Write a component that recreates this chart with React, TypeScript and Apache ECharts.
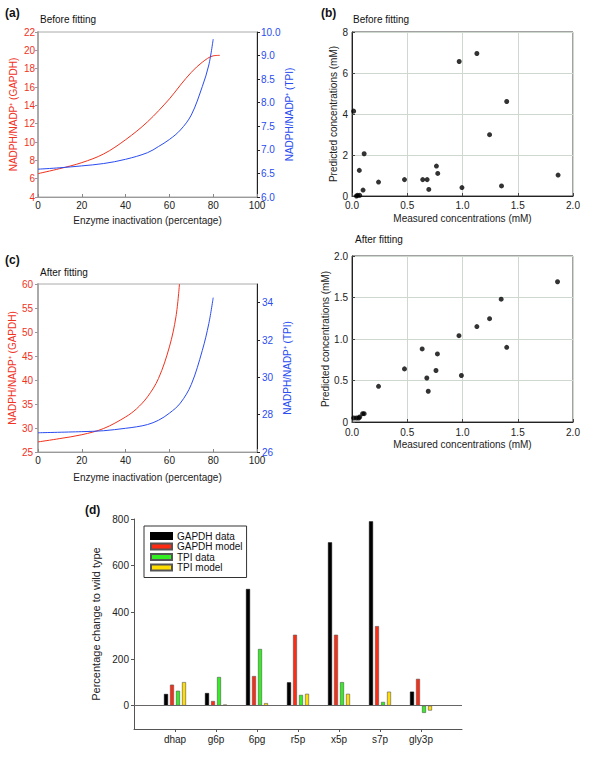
import React, { useEffect, useRef } from "react";
import * as echarts from "echarts";

// ---------- Data ----------
// Panel (a) Before fitting
const aGapdhX = [0, 10, 20, 30, 40, 50, 60, 65, 70, 75, 80, 83];
const aGapdhY = [6.55, 7.1, 7.75, 8.7, 10.25, 12.2, 14.7, 16.2, 17.6, 18.7, 19.4, 19.45];
const aTpiX = [0, 10, 20, 30, 40, 50, 55, 60, 65, 70, 75, 78, 80];
const aTpiY = [6.59, 6.62, 6.66, 6.71, 6.8, 6.94, 7.07, 7.22, 7.42, 7.74, 8.34, 8.8, 9.35];

// Panel (c) After fitting
const cGapdhX = [0, 10, 20, 30, 40, 45, 50, 55, 60, 63, 64.6];
const cGapdhY = [27.1, 27.8, 28.6, 29.9, 32.3, 34.0, 36.5, 40.3, 46.9, 53.2, 60];
const cTpiX = [0, 20, 30, 40, 45, 50, 55, 60, 65, 70, 75, 78, 80];
const cTpiY = [27.03, 27.09, 27.14, 27.27, 27.35, 27.47, 27.7, 28.08, 28.62, 29.62, 31.43, 32.88, 34.27];

// Panel (b) scatter
const measuredBefore = [0.015, 0.04, 0.05, 0.07, 0.066, 0.1, 0.11, 0.24, 0.475, 0.64, 0.68, 0.695, 0.764, 0.776, 0.97, 0.995, 1.13, 1.245, 1.353, 1.4, 1.865];
const predictedBefore = [4.14, 0, 0.03, 0.03, 1.25, 0.29, 2.06, 0.68, 0.8, 0.8, 0.8, 0.32, 1.46, 1.1, 6.56, 0.41, 6.95, 2.99, 0.49, 4.61, 1.02];
const measuredAfter = [0.015, 0.04, 0.06, 0.07, 0.096, 0.11, 0.24, 0.475, 0.635, 0.677, 0.69, 0.76, 0.773, 0.968, 0.99, 1.13, 1.245, 1.35, 1.4, 1.86];
const predictedAfter = [0.048, 0.048, 0.048, 0.06, 0.1, 0.1, 0.43, 0.64, 0.88, 0.53, 0.37, 0.62, 0.82, 1.04, 0.56, 1.15, 1.245, 1.48, 0.9, 1.69];

// Panel (d) bars
const metabolites = ["dhap", "g6p", "6pg", "r5p", "x5p", "s7p", "gly3p"];
const gapdhData = [50, 54, 500, 100, 700, 790, 60];
const gapdhModel = [90, 20, 127, 304, 304, 341, 115];
const tpiData = [64, 123, 243, 46, 101, 16, -31];
const tpiModel = [101, 5, 11, 51, 51, 60, -21];

// Tick labels
const tpiBeforeLabels: Record<string, string> = { "6": "6.0", "6.5": "6.5", "7": "7.0", "7.5": "7.5", "8": "8.0", "8.5": "8.5", "9": "9.0", "9.5": "10.0" };
const dTicks = [0, 200, 400, 600, 800];
const cTpiTicks = [26, 28, 30, 32, 34];

const RED = "#f0321e";
const BLUE = "#2a4cf0";
const FONT = "Liberation Sans, Arial, Helvetica, sans-serif";

const zip = (xs: number[], ys: number[]) => xs.map((x, i) => [x, ys[i]]);

export default function App() {
  const ref = useRef<HTMLDivElement>(null);

  useEffect(() => {
    if (!ref.current) return;
    const chart = echarts.init(ref.current, undefined, { renderer: "svg" });

    const txt = { color: "#222", fontSize: 10, fontFamily: FONT };
    const grayLine = { show: true, onZero: false, lineStyle: { color: "#9a9a9a", width: 1 } };
    const blackLine = { show: true, onZero: false, lineStyle: { color: "#222", width: 1 } };
    const gridLine = { show: true, lineStyle: { color: "#cfd8cf", width: 1 } };

    const padCats = ["", ...metabolites, ""];
    const pad = (arr: number[]) => [null, ...arr, null];

    const lineSeries = (name: string, xi: number, yi: number, xs: number[], ys: number[], color: string) => ({
      name, type: "line", xAxisIndex: xi, yAxisIndex: yi, data: zip(xs, ys),
      smooth: 0.35, showSymbol: false, lineStyle: { color, width: 1 }, itemStyle: { color },
    });

    const option: any = {
      animation: false,
      backgroundColor: "#fff",
      textStyle: { fontFamily: FONT },
      grid: [
        { left: 38, top: 32, width: 219, height: 165, show: true, borderColor: "#aaa", borderWidth: 1 },
        { left: 352, top: 32, width: 221, height: 164, show: true, borderColor: "#444", borderWidth: 1 },
        { left: 38, top: 284, width: 219, height: 168, show: true, borderColor: "#aaa", borderWidth: 1 },
        { left: 352, top: 256, width: 221, height: 166, show: true, borderColor: "#444", borderWidth: 1 },
        { left: 134, top: 519, width: 328, height: 210 },
      ],
      xAxis: [
        {
          gridIndex: 0, type: "value", min: 0, max: 100, interval: 20,
          axisLine: grayLine, axisTick: { inside: true, length: 3, lineStyle: { color: "#888" } },
          axisLabel: { ...txt, margin: 3 }, splitLine: { show: false },
          name: "Enzyme inactivation (percentage)", nameLocation: "middle", nameGap: 18, nameTextStyle: txt,
        },
        {
          gridIndex: 1, type: "value", min: 0, max: 2, interval: 0.5,
          axisLine: blackLine, axisTick: { inside: true, length: 3, lineStyle: { color: "#444" } },
          axisLabel: { ...txt, margin: 4, formatter: (v: number) => v.toFixed(1) }, splitLine: gridLine,
          name: "Measured concentrations (mM)", nameLocation: "middle", nameGap: 17, nameTextStyle: txt,
        },
        {
          gridIndex: 2, type: "value", min: 0, max: 100, interval: 20,
          axisLine: grayLine, axisTick: { inside: true, length: 3, lineStyle: { color: "#888" } },
          axisLabel: { ...txt, margin: 3 }, splitLine: { show: false },
          name: "Enzyme inactivation (percentage)", nameLocation: "middle", nameGap: 20, nameTextStyle: txt,
        },
        {
          gridIndex: 3, type: "value", min: 0, max: 2, interval: 0.5,
          axisLine: blackLine, axisTick: { inside: true, length: 3, lineStyle: { color: "#444" } },
          axisLabel: { ...txt, margin: 5, formatter: (v: number) => v.toFixed(1) }, splitLine: gridLine,
          name: "Measured concentrations (mM)", nameLocation: "middle", nameGap: 17, nameTextStyle: txt,
        },
        {
          gridIndex: 4, type: "category", data: padCats, boundaryGap: false,
          axisLine: { show: true, onZero: false, lineStyle: { color: "#555", width: 1 } },
          axisTick: { show: true, length: 3, interval: (i: number) => i > 0 && i < padCats.length - 1, lineStyle: { color: "#555" } },
          axisLabel: { ...txt, margin: 5, interval: 0 }, splitLine: { show: false },
        },
      ],
      yAxis: [
        {
          gridIndex: 0, type: "value", position: "left", min: 4, max: 22, interval: 2,
          axisLine: { show: true, onZero: false, lineStyle: { color: "#aaa", width: 2 } },
          axisTick: { show: true, length: 3, lineStyle: { color: "#999" } },
          axisLabel: { ...txt, color: RED, margin: 3 }, splitLine: { show: false },
          name: "NADPH/NADP⁺ (GAPDH)", nameLocation: "middle", nameGap: 20, nameTextStyle: { ...txt, color: RED },
        },
        {
          gridIndex: 0, type: "value", position: "right", min: 6, max: 9.5, interval: 0.5,
          axisLine: blackLine, axisTick: { show: true, length: 3, lineStyle: { color: "#222" } },
          axisLabel: { ...txt, color: BLUE, margin: 4, formatter: (v: number) => tpiBeforeLabels[String(v)] ?? v.toFixed(1) },
          splitLine: { show: false },
          name: "NADPH/NADP⁺ (TPI)", nameLocation: "middle", nameGap: 24, nameTextStyle: { ...txt, color: BLUE },
        },
        {
          gridIndex: 1, type: "value", min: 0, max: 8, interval: 2,
          axisLine: blackLine, axisTick: { inside: true, length: 3, lineStyle: { color: "#444" } },
          axisLabel: { ...txt, margin: 4 }, splitLine: gridLine,
          name: "Predicted concentrations (mM)", nameLocation: "middle", nameGap: 13, nameTextStyle: txt,
        },
        {
          gridIndex: 2, type: "value", position: "left", min: 25, max: 60, interval: 5,
          axisLine: { show: true, onZero: false, lineStyle: { color: "#aaa", width: 2 } },
          axisTick: { show: true, length: 3, lineStyle: { color: "#999" } },
          axisLabel: { ...txt, color: RED, margin: 5 }, splitLine: { show: false },
          name: "NADPH/NADP⁺ (GAPDH)", nameLocation: "middle", nameGap: 21, nameTextStyle: { ...txt, color: RED },
        },
        {
          gridIndex: 2, type: "value", position: "right", min: 26, max: 35,
          axisLine: blackLine,
          axisTick: { show: true, length: 3, customValues: cTpiTicks, lineStyle: { color: "#222" } },
          axisLabel: { ...txt, color: BLUE, margin: 5, customValues: cTpiTicks },
          splitLine: { show: false },
          name: "NADPH/NADP⁺ (TPI)", nameLocation: "middle", nameGap: 25, nameTextStyle: { ...txt, color: BLUE },
        },
        {
          gridIndex: 3, type: "value", min: 0, max: 2, interval: 0.5,
          axisLine: blackLine, axisTick: { inside: true, length: 3, lineStyle: { color: "#444" } },
          axisLabel: { ...txt, margin: 4, formatter: (v: number) => (v === 0 ? "0" : v.toFixed(1)) }, splitLine: gridLine,
          name: "Predicted concentrations (mM)", nameLocation: "middle", nameGap: 18, nameTextStyle: txt,
        },
        {
          gridIndex: 4, type: "value", min: -100, max: 800,
          axisLine: { show: true, onZero: false, lineStyle: { color: "#555", width: 1 } },
          axisTick: { show: true, length: 3, customValues: dTicks, lineStyle: { color: "#555" } },
          axisLabel: { ...txt, margin: 5, customValues: dTicks }, splitLine: { show: false },
          name: "Percentage change to wild type", nameLocation: "middle", nameGap: 28, nameTextStyle: { ...txt, fontSize: 11 },
        },
      ],
      legend: {
        orient: "vertical", left: 144, top: 526,
        itemWidth: 21, itemHeight: 6, itemGap: 0.5,
        padding: [5, 4, 5, 6],
        borderColor: "#333", borderWidth: 1, backgroundColor: "#fff",
        icon: "rect",
        textStyle: { color: "#111", fontSize: 10, lineHeight: 10, fontFamily: FONT },
        data: ["GAPDH data", "GAPDH model", "TPI data", "TPI model"],
      },
      graphic: [
        { type: "text", left: 5, top: 7, style: { text: "(a)", font: `bold 12px ${FONT}`, fill: "#111" } },
        { type: "text", left: 321, top: 7, style: { text: "(b)", font: `bold 12px ${FONT}`, fill: "#111" } },
        { type: "text", left: 5, top: 254, style: { text: "(c)", font: `bold 12px ${FONT}`, fill: "#111" } },
        { type: "text", left: 85, top: 504, style: { text: "(d)", font: `bold 12px ${FONT}`, fill: "#111" } },
        { type: "text", left: 40, top: 14, style: { text: "Before fitting", font: `10px ${FONT}`, fill: "#111" } },
        { type: "text", left: 353, top: 14, style: { text: "Before fitting", font: `10px ${FONT}`, fill: "#111" } },
        { type: "text", left: 40, top: 267, style: { text: "After fitting", font: `10px ${FONT}`, fill: "#111" } },
        { type: "text", left: 355, top: 234, style: { text: "After fitting", font: `10px ${FONT}`, fill: "#111" } },
      ],
      series: [
        lineSeries("GAPDH (a)", 0, 0, aGapdhX, aGapdhY, RED),
        lineSeries("TPI (a)", 0, 1, aTpiX, aTpiY, BLUE),
        {
          name: "Before fitting", type: "scatter", xAxisIndex: 1, yAxisIndex: 2, data: zip(measuredBefore, predictedBefore),
          symbolSize: 5, itemStyle: { color: "#000" },
        },
        lineSeries("GAPDH (c)", 2, 3, cGapdhX, cGapdhY, RED),
        lineSeries("TPI (c)", 2, 4, cTpiX, cTpiY, BLUE),
        {
          name: "After fitting", type: "scatter", xAxisIndex: 3, yAxisIndex: 5, data: zip(measuredAfter, predictedAfter),
          symbolSize: 5, itemStyle: { color: "#000" },
        },
        {
          name: "GAPDH data", type: "bar", xAxisIndex: 4, yAxisIndex: 6, data: pad(gapdhData),
          barWidth: 4, barGap: "50%", itemStyle: { color: "#000", borderColor: "#000", borderWidth: 0.5 },
          markLine: {
            silent: true, symbol: ["none", "none"], label: { show: false },
            lineStyle: { color: "#666", width: 1, type: "solid" }, data: [{ yAxis: 0 }],
          },
        },
        {
          name: "GAPDH model", type: "bar", xAxisIndex: 4, yAxisIndex: 6, data: pad(gapdhModel),
          barWidth: 4, barGap: "50%", itemStyle: { color: "#ff2a12", borderColor: "#555", borderWidth: 0.6 },
        },
        {
          name: "TPI data", type: "bar", xAxisIndex: 4, yAxisIndex: 6, data: pad(tpiData),
          barWidth: 4, barGap: "50%", itemStyle: { color: "#33ee22", borderColor: "#555", borderWidth: 0.6 },
        },
        {
          name: "TPI model", type: "bar", xAxisIndex: 4, yAxisIndex: 6, data: pad(tpiModel),
          barWidth: 4, barGap: "50%", itemStyle: { color: "#ffdd00", borderColor: "#555", borderWidth: 0.6 },
        },
      ],
    };

    chart.setOption(option);
    return () => chart.dispose();
  }, []);

  return (
    <div
      ref={ref}
      style={{ position: "absolute", left: 0, top: 0, width: 600, height: 764, background: "#fff" }}
    />
  );
}
